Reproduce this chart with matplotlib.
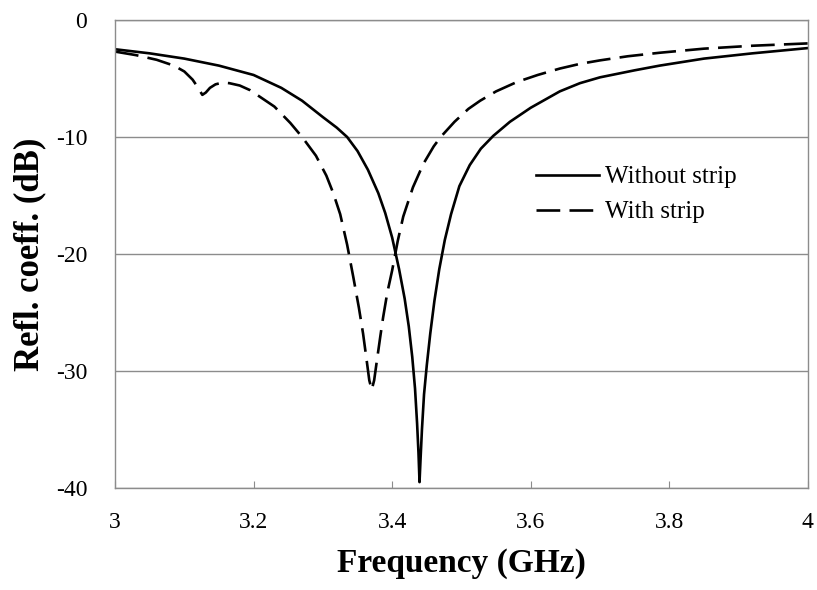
import matplotlib
matplotlib.use("Agg")
import matplotlib.pyplot as plt

# without strip (solid)
f_plain = [3.0, 3.05, 3.1, 3.15, 3.2, 3.24, 3.27, 3.3, 3.32, 3.335, 3.35, 3.365,
           3.38, 3.39, 3.4, 3.41, 3.418, 3.424, 3.429, 3.433, 3.436, 3.438, 3.4395,
           3.441, 3.443, 3.446, 3.45, 3.455, 3.461, 3.468, 3.476, 3.485, 3.497,
           3.512, 3.528, 3.546, 3.57, 3.6, 3.642, 3.671, 3.7, 3.75, 3.786, 3.85,
           3.92, 4.0]
s_plain = [-2.5, -2.85, -3.3, -3.9, -4.7, -5.8, -6.9, -8.3, -9.2, -10.0, -11.2, -12.8,
           -14.8, -16.5, -18.6, -21.3, -23.8, -26.2, -28.8, -31.5, -34.5, -37.0, -39.5,
           -37.5, -35.0, -32.0, -29.5, -26.8, -24.0, -21.3, -18.8, -16.6, -14.2,
           -12.4, -11.0, -9.9, -8.7, -7.5, -6.1, -5.4, -4.9, -4.3, -3.9, -3.3,
           -2.85, -2.4]

# with strip (dashed)
f_strip = [3.0, 3.03, 3.06, 3.085, 3.1, 3.112, 3.12, 3.126, 3.131, 3.137, 3.145, 3.155,
           3.165, 3.18, 3.195, 3.21, 3.23, 3.253, 3.27, 3.29, 3.305, 3.315, 3.325,
           3.335, 3.344, 3.352, 3.358, 3.363, 3.367, 3.3705, 3.374, 3.378, 3.383,
           3.387, 3.393, 3.4, 3.408, 3.416, 3.43, 3.445, 3.46, 3.47, 3.49, 3.51,
           3.527, 3.55, 3.58, 3.61, 3.642, 3.671, 3.7, 3.74, 3.786, 3.85, 3.92, 4.0]
s_strip = [-2.7, -3.0, -3.4, -3.9, -4.4, -5.1, -5.8, -6.4, -6.2, -5.8, -5.5, -5.35,
           -5.4, -5.6, -6.0, -6.6, -7.4, -8.8, -10.0, -11.6, -13.3, -14.8, -16.6,
           -19.2, -22.0, -24.6, -26.8, -29.0, -30.8, -31.6, -30.8, -29.1, -27.0,
           -25.4, -23.3, -21.4, -18.9, -16.8, -14.3, -12.3, -10.8, -10.0, -8.7, -7.6,
           -6.9, -6.1, -5.3, -4.7, -4.15, -3.75, -3.45, -3.1, -2.8, -2.45, -2.2, -2.0]

xticks = [3, 3.2, 3.4, 3.6, 3.8, 4]
xticklabels = ["3", "3.2", "3.4", "3.6", "3.8", "4"]
yticks = [0, -10, -20, -30, -40]
yticklabels = ["0", "-10", "-20", "-30", "-40"]

plt.rcParams["font.family"] = ["Liberation Serif", "DejaVu Serif"]

fig = plt.figure(figsize=(8.17, 5.90), dpi=100)
ax = fig.add_axes([0.1408, 0.1729, 0.848, 0.7932])

ax.plot(f_plain, s_plain, color="black", lw=1.9, label="Without strip")
ax.plot(f_strip, s_strip, color="black", lw=1.9, dashes=(9, 3.5), label="With strip")

ax.set_xlim(3, 4)
ax.set_ylim(-40, 0)
ax.set_xticks(xticks)
ax.set_xticklabels(xticklabels)
ax.set_yticks(yticks)
ax.set_yticklabels(yticklabels)
ax.yaxis.grid(True, color="#8c8c8c", lw=1.0)
ax.set_axisbelow(True)

for sp in ax.spines.values():
    sp.set_color("#8c8c8c")
    sp.set_linewidth(1.0)

ax.tick_params(axis="x", direction="in", length=5, color="#8c8c8c", labelsize=17, pad=17)
ax.tick_params(axis="y", length=0, labelsize=17, pad=20)

ax.set_xlabel("Frequency (GHz)", fontsize=24, fontweight="bold", labelpad=11)
ax.set_ylabel("Refl. coeff. (dB)", fontsize=25, fontweight="bold", labelpad=7)

ax.legend(loc="upper left", bbox_to_anchor=(0.59, 0.715), frameon=False,
          fontsize=18, handlelength=2.5, handletextpad=0.25, labelspacing=0.5,
          borderpad=0)

fig.savefig("out.png", dpi=100)
